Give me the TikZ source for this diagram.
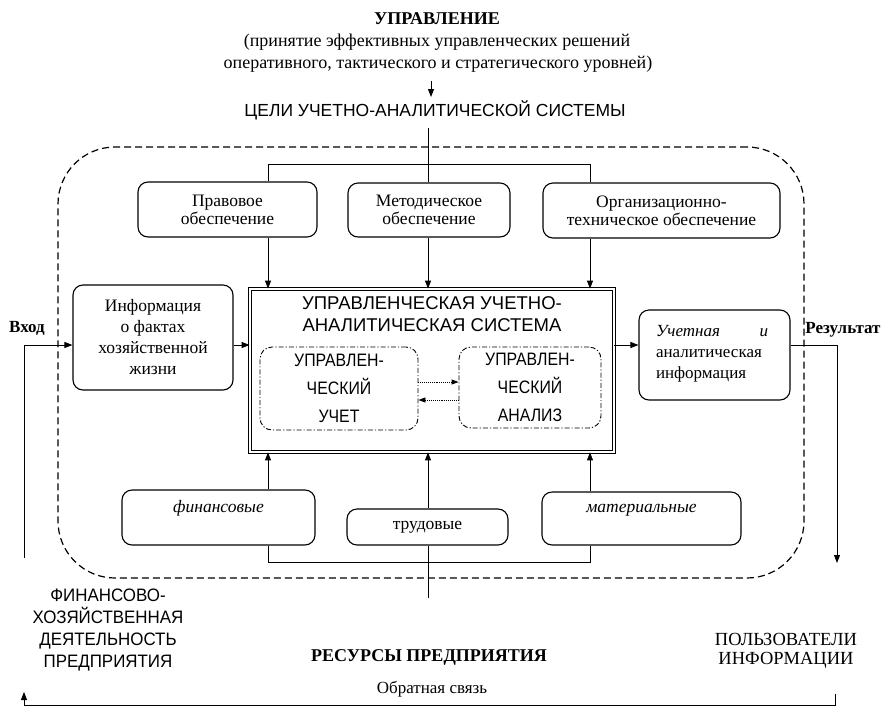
\documentclass[tikz,border=0pt]{standalone}
\usepackage{fontspec}
\setmainfont{Liberation Serif}
\newfontfamily\nsans[FakeStretch=0.88]{Liberation Sans}
\newfontfamily\msans[FakeStretch=0.94]{Liberation Sans}
\newfontfamily\usans{Liberation Sans}
\usetikzlibrary{arrows.meta}
\begin{document}
\begin{tikzpicture}[x=1pt,y=-1pt,
  ln/.style={line width=0.9pt},
  arr/.style={ln,-{Triangle[length=8pt,width=6pt]}},
  darr/.style={line width=0.9pt,densely dotted,-{Triangle[length=7pt,width=5pt]}},
  box/.style={draw,line width=1.1pt,rounded corners=10pt,align=center,inner sep=0pt,font=\fontsize{17.5}{18}\selectfont},
  ibox/.style={draw,line width=0.9pt,rounded corners=12pt,dash pattern=on 5pt off 2pt on 1.2pt off 2pt,align=center,inner sep=0pt,font=\nsans\fontsize{18}{28}\selectfont},
  txt/.style={inner sep=0pt,align=center,font=\fontsize{18}{22}\selectfont},
  stxt/.style={inner sep=0pt,align=center,font=\usans\fontsize{18}{22}\selectfont},
]
\fill[white] (0,0) rectangle (886,710);
\useasboundingbox (0,0) rectangle (886,710);

% helper coordinates
\coordinate (L) at (268,0);
\coordinate (M) at (428,0);
\coordinate (R) at (590,0);
\coordinate (io) at (0,345);
\coordinate (dU) at (0,382);
\coordinate (dD) at (0,400);

% top texts
\node[txt,font=\bfseries\fontsize{18}{22}\selectfont] (ctrl1) at (437,19) {УПРАВЛЕНИЕ};
\node[txt] (ctrl2) at (437,42) {(принятие эффективных управленческих решений};
\node[txt] (ctrl3) at (438,64) {оперативного, тактического и стратегического уровней)};
\coordinate (a1) at (431,81);
\coordinate (a2) at (431,97);
\draw[arr] (a1) -- (a2);
\node[stxt,font=\usans\fontsize{17.5}{22}\selectfont] (celi) at (435,110) {ЦЕЛИ УЧЕТНО-АНАЛИТИЧЕСКОЙ СИСТЕМЫ};
\coordinate (c1) at (428,128);

% dashed system outline
\node[draw,line width=1.2pt,dash pattern=on 7pt off 4pt,rounded corners=57pt,
      minimum width=746pt,minimum height=431pt,inner sep=0pt] (sys) at (431,362.5) {};

% top boxes
\node[box,minimum width=179pt,minimum height=55pt] (pravo) at (227.5,209.5) {Правовое\\обеспечение};
\node[box,minimum width=162pt,minimum height=54pt] (metod) at (429,210) {Методическое\\обеспечение};
\node[box,minimum width=237pt,minimum height=55pt] (org) at (661.5,210.5) {Организационно-\\техническое обеспечение};

% main system
\node[draw,double,double distance=2.4pt,line width=0.8pt,minimum width=364pt,minimum height=163pt,inner sep=0pt] (main) at (432,370.5) {};
\node[stxt,font=\usans\fontsize{18.5}{22}\selectfont] (mainT) at (432,314) {УПРАВЛЕНЧЕСКАЯ УЧЕТНО-\\АНАЛИТИЧЕСКАЯ СИСТЕМА};
\node[ibox,minimum width=158pt,minimum height=83pt] (uchet) at (339,388.5) {УПРАВЛЕН-\\ЧЕСКИЙ\\УЧЕТ};
\node[ibox,minimum width=142pt,minimum height=81pt] (analiz) at (530,387.5) {УПРАВЛЕН-\\ЧЕСКИЙ\\АНАЛИЗ};

% left and right boxes
\node[box,minimum width=160pt,minimum height=105pt,font=\fontsize{17.5}{21}\selectfont] (info) at (153,337.5) {Информация\\о фактах\\хозяйственной\\жизни};
\node[box,minimum width=151pt,minimum height=90pt] (res) at (714.5,355) {};
\node[inner sep=0pt,align=left,font=\fontsize{17}{21}\selectfont] (resT) at (712,354)
  {\makebox[112pt]{\textit{Учетная}\hfill\textit{и}}\\аналитическая\\информация};

% bottom boxes
\node[box,minimum width=193pt,minimum height=55pt] (fin) at (218.5,517.5) {};
\node[txt,font=\itshape\fontsize{17.5}{20}\selectfont] (finT) at (218.5,508) {финансовые};
\node[box,minimum width=161pt,minimum height=36pt] (trud) at (427.5,527) {трудовые};
\node[box,minimum width=199pt,minimum height=53pt] (mat) at (641.5,518.5) {};
\node[txt,font=\itshape\fontsize{17.5}{20}\selectfont] (matT) at (641.5,510) {материальные};

% side labels
\node[txt,font=\bfseries\fontsize{17}{20}\selectfont] (vhod) at (27,328) {Вход};
\node[txt,font=\bfseries\fontsize{17}{20}\selectfont] (rezult) at (843,330) {Результат};

% bottom texts
\node[stxt,font=\msans\fontsize{18}{21.7}\selectfont] (fhd) at (108,630) {ФИНАНСОВО-\\ХОЗЯЙСТВЕННАЯ\\ДЕЯТЕЛЬНОСТЬ\\ПРЕДПРИЯТИЯ};
\node[txt,font=\bfseries\fontsize{18}{22}\selectfont] (resurs) at (429,657) {РЕСУРСЫ ПРЕДПРИЯТИЯ};
\node[txt,font=\fontsize{18.5}{19}\selectfont] (polz) at (786,651) {ПОЛЬЗОВАТЕЛИ\\ИНФОРМАЦИИ};
\node[txt,font=\fontsize{17}{20}\selectfont] (obr) at (432,689) {Обратная связь};

% top connectors
\draw[ln] (c1) -- (metod.north -| M);
\draw[ln] (pravo.north -| L) -- ++(0,-17) -| (org.north -| R);
\draw[arr] (pravo.south -| L) -- (main.north -| L);
\draw[arr] (metod.south -| M) -- (main.north -| M);
\draw[arr] (org.south -| R) -- (main.north -| R);

% bottom connectors
\draw[arr] (fin.north -| L) -- (main.south -| L);
\draw[arr] (trud.north -| M) -- (main.south -| M);
\draw[arr] (mat.north -| R) -- (main.south -| R);
\draw[ln] (fin.south -| L) -- ++(0,17) -| (mat.south -| R);
\coordinate (rb) at (428,598);
\draw[ln] (rb) -- (trud.south -| M);

% inner dotted arrows
\draw[darr] (uchet.east |- dU) -- (analiz.west |- dU);
\draw[darr] (analiz.west |- dD) -- (uchet.east |- dD);

% input / output
\coordinate (inb) at (24,558);
\draw[arr] (inb) |- (info.west |- io);
\draw[arr] (info.east |- io) -- (main.west |- io);
\draw[arr] (main.east |- io) -- (res.west |- io);
\coordinate (outb) at (837,563);
\draw[arr] (res.east |- io) -| (outb);

% feedback
\coordinate (fbR) at (835,694);
\coordinate (fbB) at (0,705);
\coordinate (fbL) at (24,692);
\draw[arr] (fbR) -- (fbR |- fbB) -| (fbL);
\end{tikzpicture}
\end{document}
